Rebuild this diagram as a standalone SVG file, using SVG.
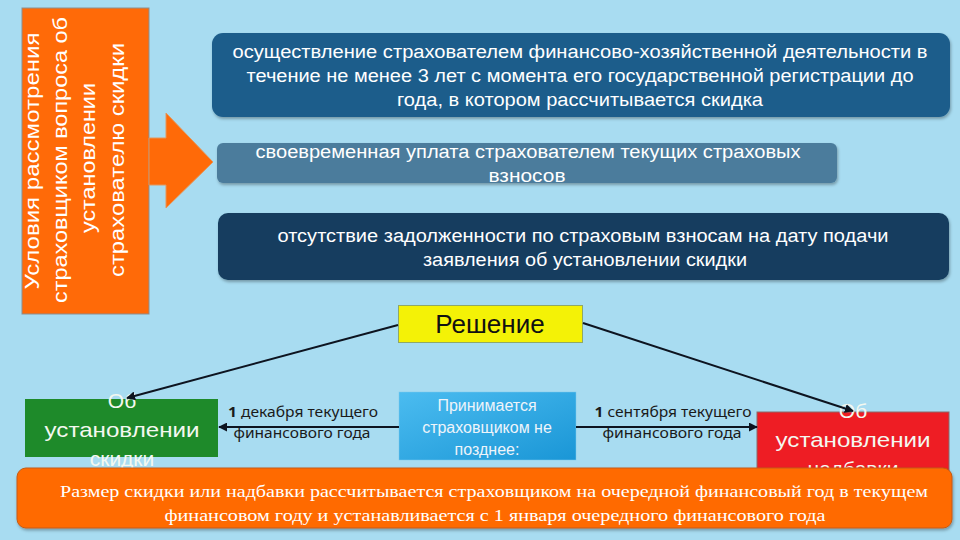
<svg xmlns="http://www.w3.org/2000/svg" width="960" height="540" viewBox="0 0 960 540">
  <defs>
    <style>
      .bx { font-size: 18px; text-anchor: middle; fill: #ffffff; font-family: "Liberation Sans", Arial, sans-serif; }
      .big { font-size: 21px; text-anchor: middle; fill: #f4f8f0; font-family: "Liberation Sans", Arial, sans-serif; }
      .lbl { font-size: 15px; text-anchor: middle; fill: #1a1a1a; font-family: "Noto Sans", "Open Sans", sans-serif; }
      .rot { font-size: 21px; text-anchor: middle; fill: #ffffff; font-family: "Liberation Sans", Arial, sans-serif; }
      .conn { stroke: #0d1420; stroke-width: 2; fill: none; marker-end: url(#ah); }
    </style>
    <marker id="ah" viewBox="0 0 10 10" refX="9" refY="5" markerWidth="4.5" markerHeight="4.5" orient="auto">
      <path d="M0,0 L10,5 L0,10 z" fill="#0d1420"/>
    </marker>
    <linearGradient id="bg2" x1="0" y1="0" x2="1" y2="1">
      <stop offset="0" stop-color="#4bbcf0"/>
      <stop offset="1" stop-color="#1a96d6"/>
    </linearGradient>
    <filter id="sh" x="-5%" y="-10%" width="110%" height="130%">
      <feDropShadow dx="1" dy="2" stdDeviation="1.5" flood-color="#000" flood-opacity="0.3"/>
    </filter>
  </defs>

  <rect x="0" y="0" width="960" height="540" fill="#a8dcf1"/>

  <g id="conditions-title">
    <rect x="22" y="8" width="127" height="306" fill="#ff6a08" stroke="#8d8d8d" stroke-width="1"/>
    <path d="M149,138 L166,138 L166,113 L213,162 L166,208 L166,185 L149,185 z" fill="#ff6a08" stroke="#e4965a" stroke-width="1"/>
    <text class="rot" transform="translate(39,161) rotate(-90)" textLength="257" lengthAdjust="spacingAndGlyphs">Условия рассмотрения</text>
    <text class="rot" transform="translate(67,160) rotate(-90)" textLength="286" lengthAdjust="spacingAndGlyphs">страховщиком вопроса об</text>
    <text class="rot" transform="translate(95,158) rotate(-90)" textLength="150" lengthAdjust="spacingAndGlyphs">установлении</text>
    <text class="rot" transform="translate(124,160) rotate(-90)" textLength="234" lengthAdjust="spacingAndGlyphs">страхователю скидки</text>
  </g>

  <g id="cond-1">
    <rect x="212" y="33" width="738" height="84" rx="11" fill="#1c5d8b" filter="url(#sh)"/>
    <text class="bx" x="580" y="58" textLength="695" lengthAdjust="spacingAndGlyphs">осуществление страхователем финансово-хозяйственной деятельности в</text>
    <text class="bx" x="580" y="82" textLength="667" lengthAdjust="spacingAndGlyphs">течение не менее 3 лет с момента его государственной регистрации до</text>
    <text class="bx" x="580" y="106" textLength="366" lengthAdjust="spacingAndGlyphs">года, в котором рассчитывается скидка</text>
  </g>

  <g id="cond-2">
    <rect x="217" y="143" width="620" height="40" rx="6" fill="#4b7c9c" filter="url(#sh)"/>
    <text class="bx" x="528" y="158" textLength="545" lengthAdjust="spacingAndGlyphs">своевременная уплата страхователем текущих страховых</text>
    <text class="bx" x="527" y="182" textLength="77" lengthAdjust="spacingAndGlyphs">взносов</text>
  </g>

  <g id="cond-3">
    <rect x="218" y="213" width="731" height="67" rx="10" fill="#143e5e" filter="url(#sh)"/>
    <text class="bx" x="583" y="242" textLength="611" lengthAdjust="spacingAndGlyphs">отсутствие задолженности по страховым взносам на дату подачи</text>
    <text class="bx" x="585" y="266" textLength="324" lengthAdjust="spacingAndGlyphs">заявления об установлении скидки</text>
  </g>

  <g id="decision">
    <rect x="398.5" y="305.5" width="184" height="37" fill="#f4f206" stroke="#8fa868" stroke-width="1"/>
    <text x="490" y="333" font-size="26" text-anchor="middle" fill="#111" font-family="Liberation Sans, Arial, sans-serif">Решение</text>
  </g>

  <g id="deadline">
    <rect x="399" y="392" width="177" height="68" fill="url(#bg2)" stroke="#7ec8ec" stroke-width="0.5"/>
    <text x="487" y="411" font-size="16" text-anchor="middle" fill="#eef4fa" font-family="Liberation Sans, Arial, sans-serif">Принимается</text>
    <text x="487" y="433" font-size="16" text-anchor="middle" fill="#eef4fa" font-family="Liberation Sans, Arial, sans-serif">страховщиком не</text>
    <text x="487" y="455" font-size="16" text-anchor="middle" fill="#eef4fa" font-family="Liberation Sans, Arial, sans-serif">позднее:</text>
  </g>

  <g id="label-dec">
    <text class="lbl" x="303" y="417" textLength="150" lengthAdjust="spacingAndGlyphs"><tspan font-weight="bold">1</tspan> декабря текущего</text>
    <text class="lbl" x="302" y="438" textLength="137" lengthAdjust="spacingAndGlyphs">финансового года</text>
  </g>

  <g id="label-sep">
    <text class="lbl" x="673" y="417" textLength="157" lengthAdjust="spacingAndGlyphs"><tspan font-weight="bold">1</tspan> сентября текущего</text>
    <text class="lbl" x="672" y="438" textLength="139" lengthAdjust="spacingAndGlyphs">финансового года</text>
  </g>

  <g id="discount">
    <rect x="25" y="399" width="193" height="58" fill="#1e8a2a"/>
    <text class="big" x="122" y="408">Об</text>
    <text class="big" x="122" y="437" textLength="155" lengthAdjust="spacingAndGlyphs">установлении</text>
    <text class="big" x="122" y="466">скидки</text>
  </g>

  <g id="surcharge">
    <rect x="757" y="412" width="192" height="62" fill="#ee1d24" stroke="#8a6a6a" stroke-width="1"/>
    <text class="big" x="853" y="418">Об</text>
    <text class="big" x="853" y="447" textLength="155" lengthAdjust="spacingAndGlyphs">установлении</text>
    <text class="big" x="853" y="476">надбавки</text>
  </g>

  <g id="connectors">
    <line class="conn" x1="398" y1="325" x2="127" y2="398"/>
    <line class="conn" x1="583" y1="323" x2="853" y2="411"/>
    <line class="conn" x1="399" y1="427" x2="219" y2="427"/>
    <line class="conn" x1="576" y1="427" x2="757" y2="427"/>
  </g>

  <g id="note">
    <rect x="17" y="468" width="935" height="60" rx="9" fill="#ff6a00" stroke="#c55a10" stroke-width="1" filter="url(#sh)"/>
    <text x="494" y="497" font-size="17" text-anchor="middle" fill="#ffffff" font-family="Liberation Serif, Times New Roman, serif" textLength="868" lengthAdjust="spacingAndGlyphs">Размер скидки или надбавки рассчитывается страховщиком на очередной финансовый год в текущем</text>
    <text x="495" y="521" font-size="17" text-anchor="middle" fill="#ffffff" font-family="Liberation Serif, Times New Roman, serif" textLength="661" lengthAdjust="spacingAndGlyphs">финансовом году и устанавливается с 1 января очередного финансового года</text>
  </g>
</svg>
